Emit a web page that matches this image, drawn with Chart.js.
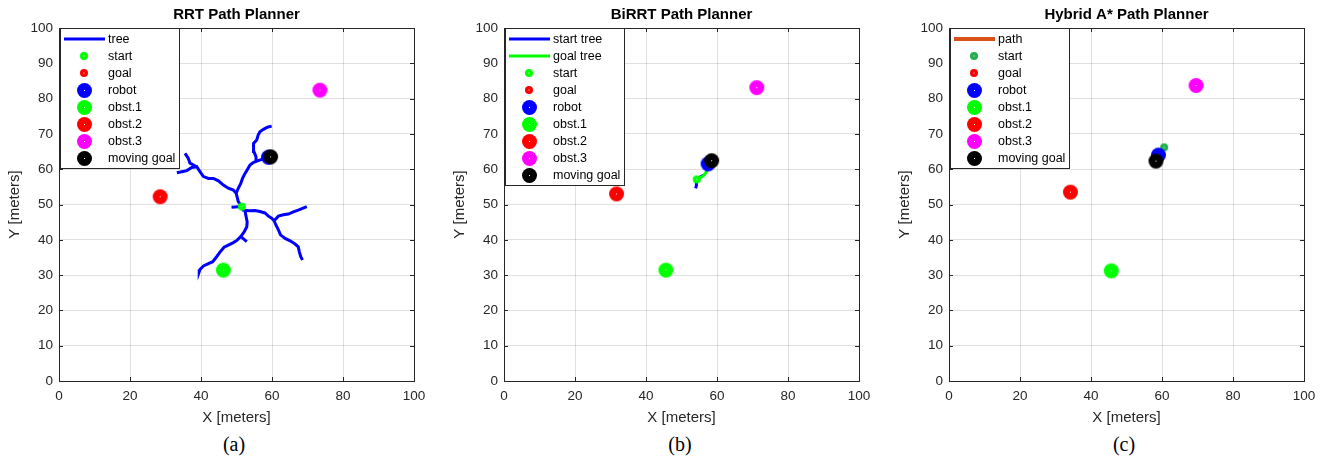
<!DOCTYPE html>
<html lang="en">
<head>
<meta charset="UTF-8">
<title>Path Planners</title>
<script src="https://cdn.jsdelivr.net/npm/chart.js@4.4.1/dist/chart.umd.min.js"></script>
<style>
    body { margin: 0; background: #fff; width: 1325px; height: 459px; overflow: hidden; position: relative; }
    canvas { position: absolute; top: 0; }
    .cap { position: absolute; top: 433px; width: 120px; text-align: center; font-family: 'Liberation Serif', 'Times New Roman', serif; font-size: 20px; line-height: 23px; color: #000; }
</style>
</head>
<body>
<canvas id="rrt" width="435" height="430" style="left:0px"></canvas>
<canvas id="birrt" width="435" height="430" style="left:445px"></canvas>
<canvas id="hybrid" width="435" height="430" style="left:890px"></canvas>
<div class="cap" style="left:174px">(a)</div>
<div class="cap" style="left:620px">(b)</div>
<div class="cap" style="left:1064px">(c)</div>
<script>
    const xTickValues = [0, 20, 40, 60, 80, 100];
    const yTickValues = [0, 10, 20, 30, 40, 50, 60, 70, 80, 90, 100];

    // (a) RRT - tree branches
    const rrtRootStub = [[48.6, 49.2], [51.5, 49.4]];
    const rrtBranchA = [[51.5, 49.4], [50.5, 50.8], [50.2, 52.0], [49.9, 53.2], [49.1, 54.1], [47.7, 54.6], [46.3, 55.5], [44.9, 56.7], [43.5, 57.4], [42.1, 57.4], [40.7, 57.9], [39.7, 59.3], [38.8, 60.7], [37.4, 60.5], [36.0, 59.6], [34.6, 59.3], [33.2, 59.0]];
    const rrtBranchA2 = [[38.8, 60.7], [36.9, 61.7], [36.4, 63.1], [35.5, 64.5]];
    const rrtBranchB = [[49.9, 53.2], [50.5, 54.6], [51.2, 56.0], [51.7, 57.4], [52.4, 58.8], [53.0, 59.8], [53.8, 61.2], [54.7, 61.9], [55.7, 62.3], [57.1, 62.8], [58.5, 63.4]];
    const rrtBranchB2 = [[55.7, 62.3], [55.5, 63.5], [54.9, 65.0], [54.7, 66.4], [54.9, 67.3], [55.7, 68.3], [56.1, 69.7], [56.6, 70.6], [57.6, 71.3], [58.7, 71.9], [59.9, 72.2]];
    const rrtBranchC = [[51.5, 49.4], [51.9, 48.4], [52.9, 48.3], [53.8, 48.2], [55.2, 48.3], [56.6, 48.0], [58.0, 47.6], [59.0, 46.7], [59.9, 46.1], [60.6, 45.4]];
    const rrtBranchC1 = [[60.6, 45.4], [61.8, 46.7], [63.2, 47.1], [64.6, 47.3], [66.0, 47.9], [67.4, 48.4], [68.6, 48.9], [69.8, 49.4]];
    const rrtBranchC2 = [[60.6, 45.4], [61.1, 44.2], [61.8, 42.8], [62.4, 41.4], [63.7, 40.4], [65.1, 39.7], [66.5, 38.8], [67.4, 38.0], [67.7, 36.6], [68.1, 35.2], [68.6, 34.3]];
    const rrtBranchD = [[52.4, 48.2], [52.7, 46.6], [53.0, 45.1], [52.9, 43.7], [52.2, 42.3], [51.2, 40.9], [50.2, 39.9], [49.1, 39.2], [47.7, 38.5], [46.5, 37.9], [45.4, 36.6], [44.4, 35.2], [43.3, 33.8], [41.8, 33.1], [40.7, 32.6], [39.7, 31.6], [39.5, 31.0]];
    const rrtBranchD1 = [[51.2, 40.9], [52.9, 39.5]];
    const rrtStart = [[51.5, 49.4]];
    const rrtRobot = [[59.0, 63.4]];
    const rrtObst1 = [[46.3, 31.4]];
    const rrtObst2 = [[28.5, 52.2]];
    const rrtObst3 = [[73.5, 82.4]];
    const rrtMovingGoal = [[59.6, 63.5]];

    // (b) BiRRT
    const biStartTree1 = [[54.3, 57.1], [54.1, 56.2], [54.3, 55.4], [54.0, 54.6]];
    const biStartTree2 = [[54.6, 57.4], [55.5, 57.9], [56.3, 58.3]];
    const biGoalTree = [[54.3, 57.1], [55.2, 57.6], [56.0, 58.0], [56.6, 58.6], [57.0, 59.3], [57.5, 60.2]];
    const biStart = [[54.3, 57.1]];
    const biRobot = [[57.5, 61.5]];
    const biObst1 = [[45.6, 31.4]];
    const biObst2 = [[31.7, 53.0]];
    const biObst3 = [[71.2, 83.1]];
    const biMovingGoal = [[58.5, 62.4]];

    // (c) Hybrid A*
    const haPath = [];
    const haStart = [[60.6, 66.2]];
    const haRobot = [[59.0, 64.0]];
    const haObst1 = [[45.7, 31.2]];
    const haObst2 = [[34.2, 53.5]];
    const haObst3 = [[69.6, 83.7]];
    const haMovingGoal = [[58.3, 62.3]];

    const FONT = "'Liberation Sans', Arial, sans-serif";
    const TXT = '#262626';

    function pts(arr) {
        return arr.map(p => ({ x: p[0], y: p[1] }));
    }

    // filled circle with a little white dot in the middle, like the matlab markers
    function marker(color, r) {
        const c = document.createElement('canvas');
        const s = Math.ceil(r * 2 + 2);
        c.width = s; c.height = s;
        const g = c.getContext('2d');
        g.fillStyle = color;
        g.beginPath(); g.arc(s / 2, s / 2, r, 0, Math.PI * 2); g.fill();
        g.fillStyle = '#fff';
        g.fillRect(s / 2 - 0.5, s / 2 - 0.5, 1, 1);
        return c;
    }

    function lineSet(label, arr, color, w) {
        return { label: label, data: pts(arr), showLine: true, borderColor: color, backgroundColor: color, borderWidth: w, pointRadius: 0 };
    }

    function dotSet(label, arr, color, r) {
        const m = marker(color, r);
        return { label: label, data: pts(arr), pointStyle: m, pointRadius: r, legendMarker: m };
    }

    const frame = {
        id: 'frame',
        afterDraw(chart) {
            const { ctx, chartArea: a, scales: { x, y } } = chart;
            const L = Math.round(a.left), T = Math.round(a.top), R = Math.round(a.right), B = Math.round(a.bottom);
            ctx.save();
            ctx.strokeStyle = TXT;
            ctx.lineWidth = 1;
            ctx.strokeRect(L + 0.5, T + 0.5, R - L, B - T);
            ctx.beginPath();
            xTickValues.forEach(v => {
                const px = Math.round(x.getPixelForValue(v)) + 0.5;
                ctx.moveTo(px, B); ctx.lineTo(px, B - 4);
                ctx.moveTo(px, T); ctx.lineTo(px, T + 4);
            });
            yTickValues.forEach(v => {
                const py = Math.round(y.getPixelForValue(v)) + 0.5;
                ctx.moveTo(L, py); ctx.lineTo(L + 4, py);
                ctx.moveTo(R, py); ctx.lineTo(R - 4, py);
            });
            ctx.stroke();

            // legend inside the axes, top left
            const items = [];
            chart.data.datasets.forEach(ds => {
                if (!items.find(i => i.label === ds.label)) items.push(ds);
            });
            const bx = L + 1, by = T, bw = 119, bh = items.length * 17 + 4;
            ctx.fillStyle = '#fff';
            ctx.fillRect(bx, by, bw, bh);
            ctx.strokeStyle = TXT;
            ctx.strokeRect(bx + 0.5, by + 0.5, bw, bh);
            ctx.font = '12.5px ' + FONT;
            ctx.textBaseline = 'middle';
            items.forEach((ds, i) => {
                const cy = by + 11 + i * 17;
                if (ds.showLine) {
                    ctx.strokeStyle = ds.borderColor;
                    ctx.lineWidth = ds.borderWidth;
                    ctx.beginPath(); ctx.moveTo(bx + 4, cy); ctx.lineTo(bx + 45, cy); ctx.stroke();
                } else {
                    const m = ds.legendMarker;
                    ctx.drawImage(m, Math.round(bx + 24 - m.width / 2), Math.round(cy - m.height / 2));
                }
                ctx.fillStyle = '#000';
                ctx.fillText(ds.label, bx + 48, cy + 0.5);
            });
            ctx.restore();
        }
    };

    function makeChart(id, title, datasets) {
        const n = datasets.length;
        datasets.forEach((ds, i) => { ds.order = n - i; });
        return new Chart(document.getElementById(id), {
            type: 'scatter',
            data: { datasets: datasets },
            options: {
                responsive: false,
                animation: false,
                devicePixelRatio: 1,
                layout: { padding: { left: 0, right: 21, top: 0, bottom: 0 } },
                plugins: {
                    legend: { display: false },
                    tooltip: { enabled: false },
                    title: {
                        display: true, text: title, fullSize: false, color: '#000',
                        font: { family: FONT, size: 15, weight: 'bold' },
                        padding: { top: 6, bottom: 4 }
                    }
                },
                scales: {
                    x: {
                        type: 'linear', min: 0, max: 100,
                        afterBuildTicks: s => { s.ticks = xTickValues.map(v => ({ value: v })); },
                        afterFit: s => { s.height = 49; },
                        grid: { color: 'rgba(0,0,0,0.12)', drawTicks: false },
                        border: { display: false },
                        ticks: { color: TXT, font: { family: FONT, size: 13.5 }, padding: 7, maxRotation: 0 },
                        title: { display: true, text: 'X [meters]', color: TXT, font: { family: FONT, size: 15 }, padding: { top: 0, bottom: 3.5 } }
                    },
                    y: {
                        type: 'linear', min: 0, max: 100,
                        afterBuildTicks: s => { s.ticks = yTickValues.map(v => ({ value: v })); },
                        afterFit: s => { s.width = 59; },
                        grid: { color: 'rgba(0,0,0,0.12)', drawTicks: false },
                        border: { display: false },
                        ticks: { color: TXT, font: { family: FONT, size: 13.5 }, padding: 6 },
                        title: { display: true, text: 'Y [meters]', color: TXT, font: { family: FONT, size: 15 }, padding: { top: 6, bottom: 0 } }
                    }
                }
            },
            plugins: [frame]
        });
    }

    const BLUE = '#0000ff', GREEN = '#00ff00', RED = '#ff0000', MAG = '#ff00ff', BLACK = '#000000';

    makeChart('rrt', 'RRT Path Planner', [
        lineSet('tree', rrtBranchA, BLUE, 3),
        lineSet('tree', rrtBranchA2, BLUE, 3),
        lineSet('tree', rrtBranchB, BLUE, 3),
        lineSet('tree', rrtBranchB2, BLUE, 3),
        lineSet('tree', rrtBranchC, BLUE, 3),
        lineSet('tree', rrtBranchC1, BLUE, 3),
        lineSet('tree', rrtBranchC2, BLUE, 3),
        lineSet('tree', rrtBranchD, BLUE, 3),
        lineSet('tree', rrtBranchD1, BLUE, 3),
        lineSet('tree', rrtRootStub, BLUE, 3),
        dotSet('start', rrtStart, GREEN, 4),
        dotSet('goal', [], RED, 4),
        dotSet('robot', rrtRobot, BLUE, 7.5),
        dotSet('obst.1', rrtObst1, GREEN, 7.5),
        dotSet('obst.2', rrtObst2, RED, 7.5),
        dotSet('obst.3', rrtObst3, MAG, 7.5),
        dotSet('moving goal', rrtMovingGoal, BLACK, 7.5)
    ]);

    makeChart('birrt', 'BiRRT Path Planner', [
        lineSet('start tree', biStartTree1, BLUE, 3),
        lineSet('start tree', biStartTree2, BLUE, 3),
        lineSet('goal tree', biGoalTree, GREEN, 3),
        dotSet('start', biStart, GREEN, 4),
        dotSet('goal', [], RED, 4),
        dotSet('robot', biRobot, BLUE, 7.5),
        dotSet('obst.1', biObst1, GREEN, 7.5),
        dotSet('obst.2', biObst2, RED, 7.5),
        dotSet('obst.3', biObst3, MAG, 7.5),
        dotSet('moving goal', biMovingGoal, BLACK, 7.5)
    ]);

    makeChart('hybrid', 'Hybrid A* Path Planner', [
        lineSet('path', haPath, '#d95319', 4),
        dotSet('start', haStart, '#1fb04c', 4),
        dotSet('goal', [], RED, 4),
        dotSet('robot', haRobot, BLUE, 7.5),
        dotSet('obst.1', haObst1, GREEN, 7.5),
        dotSet('obst.2', haObst2, RED, 7.5),
        dotSet('obst.3', haObst3, MAG, 7.5),
        dotSet('moving goal', haMovingGoal, BLACK, 7.5)
    ]);
</script>
</body>
</html>
